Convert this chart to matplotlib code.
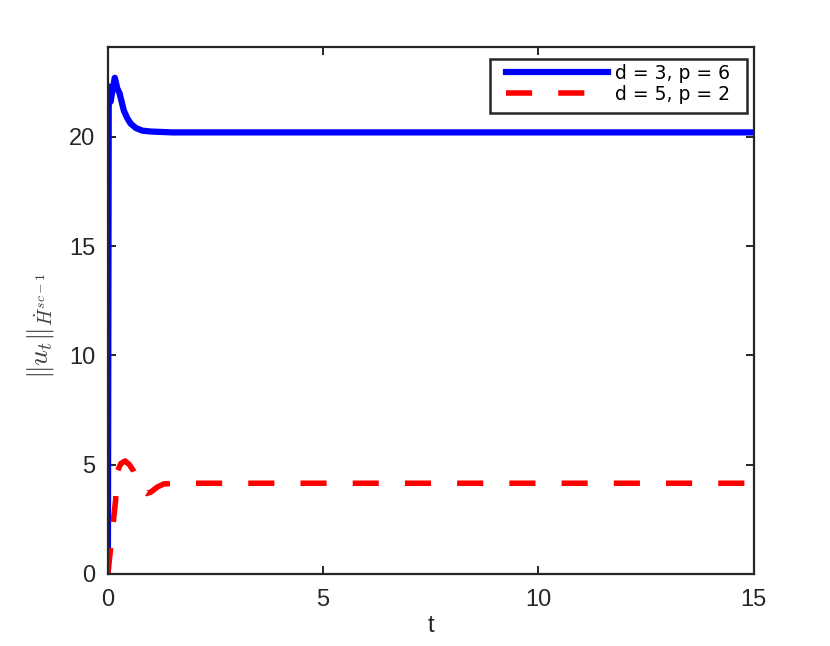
import matplotlib
matplotlib.use("Agg")
import matplotlib.pyplot as plt
from matplotlib.patches import Rectangle

plt.rcParams['font.family'] = ['Liberation Sans', 'DejaVu Sans']
plt.rcParams['mathtext.fontset'] = 'cm'

# d = 3, p = 6
t_blue = [0, 0.02, 0.06, 0.16, 0.22, 0.27, 0.37, 0.45, 0.53, 0.65, 0.8, 1.0, 1.5, 15]
u_blue = [0, 22.3, 21.6, 22.7, 22.2, 22.0, 21.2, 20.85, 20.6, 20.4, 20.28, 20.24, 20.2, 20.2]

# d = 5, p = 2
t_red = [0, 0.18, 0.2, 0.3, 0.4, 0.5, 0.6, 0.7, 0.8, 0.9, 1.0, 1.15, 1.3, 1.6, 15]
u_red = [0, 3.4, 4.6, 5.05, 5.17, 5.0, 4.7, 4.2, 3.8, 3.68, 3.75, 3.98, 4.12, 4.15, 4.15]

labels = ["d = 3, p = 6", "d = 5, p = 2"]
xticks = [0, 5, 10, 15]
yticks = [0, 5, 10, 15, 20]

dark = '#262626'
W, H = 830, 646

fig = plt.figure(figsize=(8.3, 6.46), dpi=100)
ax = fig.add_axes([0.130, 0.1115, 0.778, 0.8155])

ax.plot(t_blue, u_blue, color='#0000ff', lw=4.5, label=labels[0], solid_joinstyle='round')
ax.plot(t_red, u_red, color='#ff0000', lw=4, dashes=(4.7, 4.7), label=labels[1])

ax.set_xlim(0, 15)
ax.set_ylim(0, 24.1)
ax.set_xticks(xticks)
ax.set_yticks(yticks)

for s in ax.spines.values():
    s.set_linewidth(1.6)
    s.set_color(dark)
ax.tick_params(direction='in', length=5.5, width=1.4, colors=dark,
               labelsize=17, top=True, right=True)
ax.tick_params(axis='y', pad=9)
ax.tick_params(axis='x', pad=11)

ax.set_xlabel('t', fontsize=17, color=dark, labelpad=3)
ax.set_ylabel(r'$\|u_t\|_{\dot{H}^{sc-1}}$', fontsize=20, color='#404040')
ax.yaxis.set_label_coords(-0.080, 0.47)

# legend entries without frame, box drawn separately
box = Rectangle((490 / W, 1 - 113 / H), 257 / W, 54 / H,
                transform=fig.transFigure, facecolor='white',
                edgecolor=dark, lw=1.8, zorder=4, clip_on=False)
ax.add_patch(box)
leg = ax.legend(loc='upper left', bbox_to_anchor=(506 / W, 1 - 64 / H),
                bbox_transform=fig.transFigure, borderaxespad=0, borderpad=0,
                prop={'family': 'DejaVu Sans', 'size': 13.5},
                handlelength=5.45, handletextpad=0.35,
                labelspacing=0.1, frameon=False)
leg.set_zorder(5)

fig.savefig('out.png', dpi=100)
